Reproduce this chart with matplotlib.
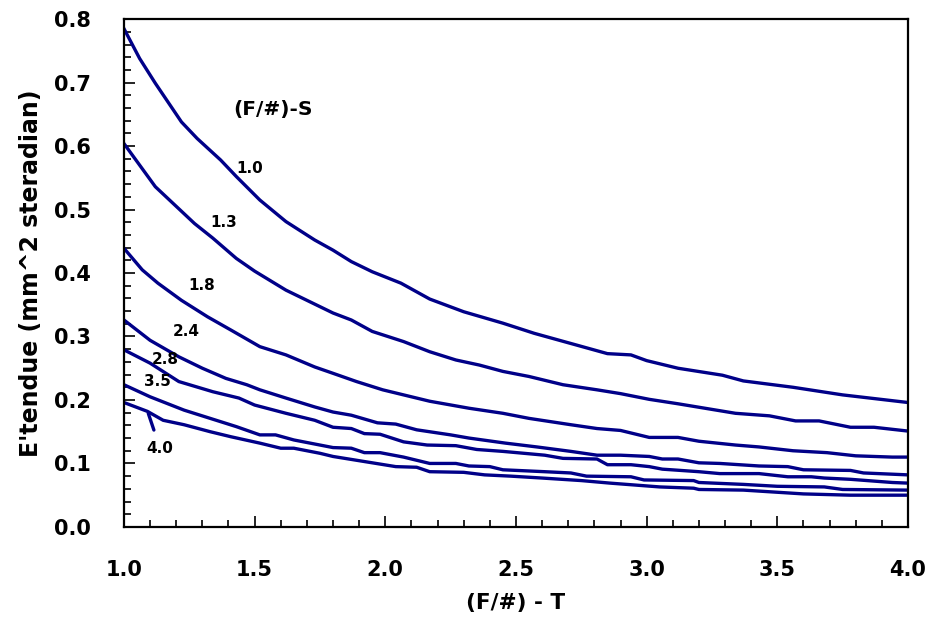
import matplotlib
matplotlib.use("Agg")
import matplotlib.pyplot as plt
from matplotlib.ticker import MultipleLocator, FormatStrFormatter

# values, one curve per (F/#)-S
c10_x = [1.00, 1.06, 1.12, 1.22, 1.28, 1.37, 1.43, 1.52, 1.62, 1.73, 1.80, 1.87, 1.95, 2.06, 2.17, 2.30, 2.45, 2.57, 2.71, 2.85, 2.94, 3.00, 3.12, 3.29, 3.37, 3.56, 3.75, 4.00]
c10_y = [0.785, 0.738, 0.699, 0.638, 0.612, 0.578, 0.552, 0.515, 0.481, 0.452, 0.436, 0.418, 0.402, 0.384, 0.359, 0.339, 0.321, 0.305, 0.289, 0.273, 0.271, 0.262, 0.250, 0.239, 0.230, 0.220, 0.208, 0.196]

c13_x = [1.00, 1.12, 1.27, 1.34, 1.43, 1.50, 1.62, 1.75, 1.80, 1.87, 1.95, 2.07, 2.17, 2.27, 2.36, 2.45, 2.55, 2.68, 2.81, 2.90, 3.01, 3.12, 3.34, 3.47, 3.57, 3.66, 3.78, 3.87, 4.00]
c13_y = [0.604, 0.536, 0.478, 0.455, 0.423, 0.403, 0.373, 0.347, 0.337, 0.326, 0.308, 0.292, 0.276, 0.263, 0.255, 0.245, 0.237, 0.224, 0.216, 0.210, 0.201, 0.194, 0.179, 0.175, 0.167, 0.167, 0.157, 0.157, 0.151]

c18_x = [1.00, 1.07, 1.13, 1.22, 1.32, 1.41, 1.52, 1.62, 1.73, 1.80, 1.89, 1.99, 2.17, 2.32, 2.45, 2.55, 2.71, 2.81, 2.90, 3.01, 3.12, 3.20, 3.34, 3.43, 3.56, 3.69, 3.80, 3.94, 4.00]
c18_y = [0.439, 0.405, 0.384, 0.357, 0.331, 0.310, 0.284, 0.271, 0.252, 0.242, 0.229, 0.216, 0.198, 0.187, 0.179, 0.171, 0.161, 0.155, 0.152, 0.141, 0.141, 0.135, 0.129, 0.126, 0.120, 0.117, 0.112, 0.110, 0.110]

c24_x = [1.00, 1.10, 1.21, 1.30, 1.39, 1.47, 1.52, 1.62, 1.73, 1.80, 1.87, 1.97, 2.04, 2.12, 2.25, 2.32, 2.46, 2.58, 2.71, 2.81, 2.90, 3.01, 3.06, 3.12, 3.20, 3.28, 3.43, 3.54, 3.60, 3.78, 3.83, 4.00]
c24_y = [0.326, 0.294, 0.268, 0.250, 0.234, 0.224, 0.216, 0.203, 0.189, 0.181, 0.176, 0.164, 0.162, 0.153, 0.145, 0.140, 0.132, 0.126, 0.119, 0.113, 0.113, 0.111, 0.107, 0.107, 0.101, 0.100, 0.096, 0.095, 0.090, 0.089, 0.085, 0.082]

c28_x = [1.00, 1.10, 1.21, 1.34, 1.44, 1.50, 1.62, 1.73, 1.80, 1.87, 1.92, 1.98, 2.07, 2.16, 2.27, 2.35, 2.45, 2.53, 2.61, 2.68, 2.81, 2.85, 2.94, 3.01, 3.06, 3.20, 3.28, 3.43, 3.54, 3.63, 3.68, 3.78, 3.94, 4.00]
c28_y = [0.279, 0.258, 0.229, 0.213, 0.203, 0.192, 0.179, 0.168, 0.157, 0.155, 0.147, 0.146, 0.134, 0.129, 0.128, 0.122, 0.119, 0.116, 0.113, 0.108, 0.107, 0.098, 0.098, 0.095, 0.091, 0.087, 0.084, 0.084, 0.079, 0.079, 0.077, 0.075, 0.070, 0.069]

c35_x = [1.00, 1.10, 1.23, 1.33, 1.43, 1.52, 1.58, 1.65, 1.75, 1.80, 1.87, 1.92, 1.98, 2.07, 2.17, 2.27, 2.32, 2.40, 2.45, 2.61, 2.71, 2.77, 2.94, 2.99, 3.18, 3.20, 3.37, 3.50, 3.68, 3.75, 4.00]
c35_y = [0.224, 0.205, 0.184, 0.171, 0.158, 0.145, 0.145, 0.137, 0.129, 0.125, 0.124, 0.117, 0.117, 0.110, 0.100, 0.100, 0.096, 0.095, 0.090, 0.087, 0.085, 0.080, 0.079, 0.074, 0.073, 0.070, 0.067, 0.064, 0.063, 0.059, 0.058]

c40_x = [1.00, 1.09, 1.15, 1.23, 1.33, 1.41, 1.52, 1.60, 1.65, 1.75, 1.80, 1.92, 2.04, 2.12, 2.17, 2.30, 2.38, 2.48, 2.60, 2.75, 2.86, 3.05, 3.18, 3.20, 3.37, 3.60, 3.78, 4.00]
c40_y = [0.196, 0.182, 0.168, 0.161, 0.150, 0.142, 0.132, 0.124, 0.124, 0.116, 0.111, 0.103, 0.095, 0.094, 0.087, 0.086, 0.082, 0.080, 0.077, 0.073, 0.069, 0.063, 0.061, 0.059, 0.058, 0.052, 0.050, 0.050]

curves = [(c10_x, c10_y), (c13_x, c13_y), (c18_x, c18_y), (c24_x, c24_y),
          (c28_x, c28_y), (c35_x, c35_y), (c40_x, c40_y)]

# curve labels and where they sit
labels = ["1.0", "1.3", "1.8", "2.4", "2.8", "3.5"]
label_x = [1.482, 1.380, 1.297, 1.240, 1.157, 1.128]
label_y = [0.565, 0.480, 0.380, 0.308, 0.264, 0.229]

line_col = "#000088"

fig, ax = plt.subplots(figsize=(9.25, 6.17), dpi=100)
fig.subplots_adjust(left=0.134, right=0.9816, bottom=0.146, top=0.969)

for cx, cy in curves:
    ax.plot(cx, cy, color=line_col, lw=2.4, solid_joinstyle="round")

for t, lx, ly in zip(labels, label_x, label_y):
    ax.text(lx, ly, t, fontsize=11, fontweight="bold", ha="center", va="center")

# 4.0 label with its leader line
ax.annotate("4.0", xy=(1.093, 0.179), xytext=(1.138, 0.124),
            fontsize=11, fontweight="bold", ha="center", va="center",
            arrowprops=dict(arrowstyle="-", color=line_col, lw=2.4, shrinkA=6, shrinkB=0))

ax.text(1.571, 0.657, "(F/#)-S", fontsize=14.5, fontweight="bold", ha="center", va="center")

ax.set_xlim(1.0, 4.0)
ax.set_ylim(0.0, 0.8)
ax.xaxis.set_major_locator(MultipleLocator(0.5))
ax.xaxis.set_minor_locator(MultipleLocator(0.1))
ax.yaxis.set_major_locator(MultipleLocator(0.1))
ax.yaxis.set_minor_locator(MultipleLocator(0.02))
ax.xaxis.set_major_formatter(FormatStrFormatter("%.1f"))
ax.yaxis.set_major_formatter(FormatStrFormatter("%.1f"))

ax.tick_params(which="both", direction="in", top=False, right=False, width=1.2)
ax.tick_params(which="major", length=8, labelsize=15, pad=24)
ax.tick_params(which="minor", length=5)
for lab in ax.get_xticklabels() + ax.get_yticklabels():
    lab.set_fontweight("bold")

for sp in ax.spines.values():
    sp.set_linewidth(1.6)

ax.set_xlabel("(F/#) - T", fontsize=15.5, fontweight="bold", labelpad=9)
ax.set_ylabel("E'tendue (mm^2 steradian)", fontsize=17, fontweight="bold", labelpad=8)

fig.savefig("out.png", dpi=100)
